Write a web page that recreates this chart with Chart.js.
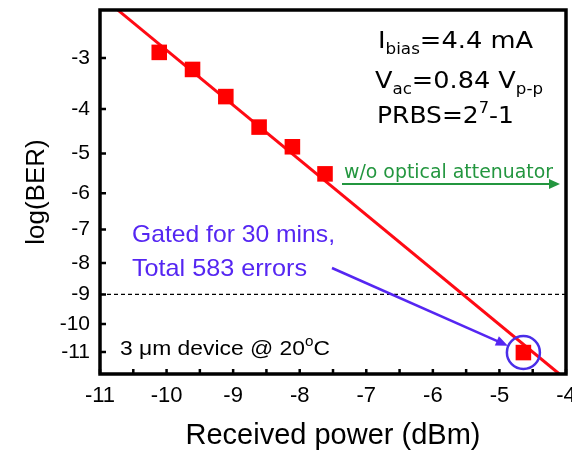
<!DOCTYPE html>
<html>
<head>
<meta charset="utf-8">
<script src="https://cdn.jsdelivr.net/npm/chart.js@4.4.1/dist/chart.umd.min.js"></script>
<style>
  body { margin: 0; background: #fff; }
</style>
</head>
<body>
<canvas id="berChart" width="572" height="452"></canvas>
<script>
// measured points
const powerDbm = [-10.11, -9.61, -9.11, -8.61, -8.11, -7.62, -4.64];
const logBer = [-2.90, -3.21, -3.74, -4.39, -4.84, -5.50, -11.02];
// linear fit (straight on the Q scale)
const fitPower = [-10.73, -4.10];
const fitLogBer = [-2.21, -11.82];
const errorFloor = -9;
const yTicks = [-3, -4, -5, -6, -7, -8, -9, -10, -11];
const xRange = [-11, -4];
const yRange = [-11.82, -2.207];

// inverse normal cdf (Acklam) -> Q factor for a given log10(BER)
function probit(p) {
    const a = [-3.969683028665376e+01, 2.209460984245205e+02, -2.759285104469687e+02, 1.383577518672690e+02, -3.066479806614716e+01, 2.506628277459239e+00];
    const b = [-5.447609879822406e+01, 1.615858368580409e+02, -1.556989798598866e+02, 6.680131188771972e+01, -1.328068155288572e+01];
    const c = [-7.784894002430293e-03, -3.223964580411365e-01, -2.400758277161838e+00, -2.549671010422583e+00, 4.374587261419700e+00, 2.938163982698783e+00];
    const d = [7.784695709041462e-03, 3.224671290700398e-01, 2.445134137142996e+00, 3.754408661907416e+00];
    if (p < 0.02425) {
        const q = Math.sqrt(-2 * Math.log(p));
        return (((((c[0] * q + c[1]) * q + c[2]) * q + c[3]) * q + c[4]) * q + c[5]) /
               ((((d[0] * q + d[1]) * q + d[2]) * q + d[3]) * q + 1);
    }
    const q = p - 0.5, r = q * q;
    return (((((a[0] * r + a[1]) * r + a[2]) * r + a[3]) * r + a[4]) * r + a[5]) * q /
           (((((b[0] * r + b[1]) * r + b[2]) * r + b[3]) * r + b[4]) * r + 1);
}
const qOf = v => -probit(Math.pow(10, v));

class QScale extends Chart.LinearScale {
    static id = 'qber';
    static defaults = {};
    getPixelForValue(value) {
        const lo = qOf(this.min), hi = qOf(this.max);
        return this.getPixelForDecimal((qOf(value) - lo) / (hi - lo));
    }
    getValueForPixel(pixel) {
        const dec = this.getDecimalForPixel(pixel);
        const lo = qOf(this.min), hi = qOf(this.max);
        let a = this.min, b = this.max;
        for (let i = 0; i < 50; i++) {
            const m = (a + b) / 2;
            if ((qOf(m) - lo) / (hi - lo) < dec) a = m; else b = m;
        }
        return (a + b) / 2;
    }
}
Chart.register(QScale);

// text with sub/superscripts, squeezed to a given width
function richText(ctx, parts, x, y, size, family, color, width) {
    ctx.save();
    ctx.fillStyle = color;
    ctx.textBaseline = 'alphabetic';
    const fontOf = p => (p.sub || p.sup ? Math.round(size * 0.65) : size) + 'px ' + family;
    let total = 0;
    parts.forEach(p => { ctx.font = fontOf(p); total += ctx.measureText(p.t).width; });
    ctx.translate(x, y);
    ctx.scale(width ? width / total : 1, 1);
    let cx = 0;
    parts.forEach(p => {
        ctx.font = fontOf(p);
        const dy = p.sub ? size * 0.28 : (p.sup ? -size * 0.42 : 0);
        ctx.fillText(p.t, cx, dy);
        cx += ctx.measureText(p.t).width;
    });
    ctx.restore();
}

function arrow(ctx, x1, y1, x2, y2, color, lw, head, half) {
    const ang = Math.atan2(y2 - y1, x2 - x1);
    ctx.save();
    ctx.strokeStyle = color;
    ctx.fillStyle = color;
    ctx.lineWidth = lw;
    ctx.beginPath();
    ctx.moveTo(x1, y1);
    ctx.lineTo(x2 - head * 0.8 * Math.cos(ang), y2 - head * 0.8 * Math.sin(ang));
    ctx.stroke();
    ctx.translate(x2, y2);
    ctx.rotate(ang);
    ctx.beginPath();
    ctx.moveTo(0, 0);
    ctx.lineTo(-head, -half);
    ctx.lineTo(-head, half);
    ctx.closePath();
    ctx.fill();
    ctx.restore();
}

const tahoma = '"DejaVu Sans", Tahoma, sans-serif';
const arial = '"Liberation Sans", Arial, sans-serif';

const decorations = {
    id: 'decorations',
    afterDatasetsDraw(chart) {
        const { ctx, chartArea: ca, scales: { x, y } } = chart;
        ctx.save();
        // frame
        ctx.strokeStyle = '#000';
        ctx.lineWidth = 3.5;
        ctx.strokeRect(ca.left, ca.top, ca.right - ca.left, ca.bottom - ca.top);
        // inward ticks
        ctx.lineWidth = 2.5;
        ctx.beginPath();
        y.ticks.forEach(t => {
            const py = y.getPixelForValue(t.value);
            ctx.moveTo(ca.left, py);
            ctx.lineTo(ca.left + 6, py);
        });
        x.ticks.forEach(t => {
            const px = x.getPixelForValue(t.value);
            ctx.moveTo(px, ca.bottom);
            ctx.lineTo(px, ca.bottom - 5);
        });
        ctx.stroke();
        ctx.restore();

        const L = ca.left, T = ca.top;
        // conditions block
        richText(ctx, [{ t: 'I' }, { t: 'bias', sub: true }, { t: '=4.4 mA' }], L + 278, T + 38, 23, tahoma, '#000', 155);
        richText(ctx, [{ t: 'V' }, { t: 'ac', sub: true }, { t: '=0.84 V' }, { t: 'p-p', sub: true }], L + 275, T + 78, 23, tahoma, '#000', 168);
        richText(ctx, [{ t: 'PRBS=2' }, { t: '7', sup: true }, { t: '-1' }], L + 277, T + 113, 23, tahoma, '#000', 137);

        // green label and arrow
        richText(ctx, [{ t: 'w/o optical attenuator' }], L + 244, T + 168, 19, tahoma, '#23963f', 209);
        arrow(ctx, L + 242, T + 174, L + 460, T + 174, '#23963f', 2, 11, 5);

        // blue annotation
        richText(ctx, [{ t: 'Gated for 30 mins,' }], L + 32, T + 232, 24, arial, '#5526f2', 203);
        richText(ctx, [{ t: 'Total 583 errors' }], L + 32, T + 266, 24, arial, '#5526f2', 175);
        const last = powerDbm.length - 1;
        const cx = x.getPixelForValue(powerDbm[last]);
        const cy = y.getPixelForValue(logBer[last]);
        const sx = L + 232, sy = T + 258;
        const len = Math.hypot(cx - sx, cy - sy);
        const ex = cx - (cx - sx) / len * 17, ey = cy - (cy - sy) / len * 17;
        arrow(ctx, sx, sy, ex, ey, '#5526f2', 2.5, 12, 5);

        // device label
        richText(ctx, [{ t: '3 \u03bcm device @ 20' }, { t: 'o', sup: true }, { t: 'C' }], L + 20, T + 345, 21, arial, '#000', 210);
    }
};

new Chart(document.getElementById('berChart'), {
    type: 'scatter',
    data: {
        datasets: [
            {
                label: 'highlight',
                data: [{ x: powerDbm[powerDbm.length - 1], y: logBer[logBer.length - 1] }],
                pointStyle: 'circle',
                pointRadius: 16.5,
                borderColor: '#4a2ee8',
                borderWidth: 2.5,
                backgroundColor: 'rgba(0,0,0,0)',
                order: 0
            },
            {
                label: 'measured',
                data: powerDbm.map((p, i) => ({ x: p, y: logBer[i] })),
                pointStyle: 'rect',
                pointRadius: 11,
                backgroundColor: '#ff0000',
                borderWidth: 0,
                order: 1
            },
            {
                label: 'fit',
                data: fitPower.map((p, i) => ({ x: p, y: fitLogBer[i] })),
                showLine: true,
                pointRadius: 0,
                borderColor: '#ff0a14',
                borderWidth: 3,
                order: 2
            },
            {
                label: 'floor',
                data: xRange.map(p => ({ x: p, y: errorFloor })),
                showLine: true,
                pointRadius: 0,
                borderColor: '#000',
                borderWidth: 1.2,
                borderDash: [4, 3],
                order: 3
            }
        ]
    },
    options: {
        responsive: false,
        animation: false,
        devicePixelRatio: 1,
        layout: { autoPadding: false, padding: { top: 10, right: 6, left: 0, bottom: 0 } },
        plugins: {
            legend: { display: false },
            tooltip: { enabled: false }
        },
        scales: {
            x: {
                type: 'linear',
                min: xRange[0],
                max: xRange[1],
                grid: { display: false, drawTicks: false },
                border: { display: false },
                ticks: {
                    stepSize: 0.5,
                    autoSkip: false,
                    maxRotation: 0,
                    padding: 9,
                    color: '#000',
                    font: { family: arial, size: 22 },
                    callback: v => Number.isInteger(v) ? String(v) : ''
                },
                title: {
                    display: true,
                    text: 'Received power (dBm)',
                    color: '#000',
                    font: { family: arial, size: 29, lineHeight: 1.1 },
                    padding: { top: 0, bottom: 0 }
                },
                afterFit: s => { s.height = 78; s.paddingLeft = 0; s.paddingRight = 0; }
            },
            y: {
                type: 'qber',
                min: yRange[0],
                max: yRange[1],
                grid: { display: false, drawTicks: false },
                border: { display: false },
                afterBuildTicks: s => { s.ticks = yTicks.map(v => ({ value: v })); },
                ticks: {
                    padding: 10,
                    color: '#000',
                    font: { family: arial, size: 21 },
                    callback: v => String(v)
                },
                title: {
                    display: true,
                    text: 'log(BER)',
                    color: '#000',
                    font: { family: arial, size: 26, lineHeight: 1.1 },
                    padding: { top: 23, bottom: 0 }
                },
                afterFit: s => { s.width = 100; s.paddingTop = 0; s.paddingBottom = 0; }
            }
        }
    },
    plugins: [decorations]
});
</script>
</body>
</html>
